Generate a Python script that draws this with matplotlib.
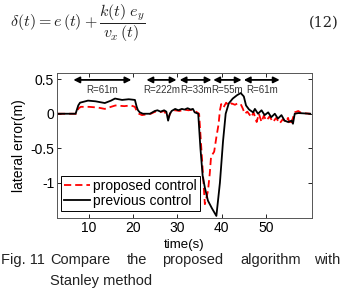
import matplotlib
matplotlib.use('Agg')
from matplotlib import pyplot as plt

plt.rcParams['font.family'] = ['Liberation Sans', 'DejaVu Sans']
plt.rcParams['mathtext.fontset'] = 'cm'

# previous control (Stanley method), black solid
t_prev = [3, 7.0, 7.6, 8.0, 9.8, 11.5, 13.6, 15.0, 15.9, 17.5, 19.0, 20.4, 20.8, 21.1,
          21.5, 22.2, 23.8, 24.9, 25.5, 26.2, 27.0, 27.5, 27.9, 28.3, 28.7, 29.5, 30.2,
          31.0, 31.6, 32.3, 33.0, 33.5, 33.9, 34.7, 35.2, 35.7, 36.2, 36.9, 37.8, 38.8,
          39.6, 40.3, 40.9, 41.6, 42.5, 43.5, 44.3, 45.0, 45.5, 46.2, 47.1, 47.5, 48.2,
          49.0, 49.7, 50.5, 51.2, 52.0, 52.7, 53.5, 54.2, 55.0, 55.8, 56.1, 56.5, 57.3, 60]
e_prev = [0, 0, 0.12, 0.16, 0.19, 0.18, 0.155, 0.19, 0.22, 0.2, 0.21, 0.2, 0.1, 0.05,
          0.02, 0.0, 0.0, 0.04, 0.05, 0.03, 0.05, 0.03, -0.1, 0.0, 0.04, 0.07, 0.05,
          0.07, 0.06, 0.08, 0.06, 0.07, 0.02, 0.0, -0.5, -0.9, -1.07, -1.26, -1.37, -1.48,
          -1.0, -0.4, 0.0, 0.15, 0.22, 0.27, 0.3, 0.25, 0.12, 0.06, 0.02, 0.07, 0.0,
          0.05, -0.02, 0.02, -0.05, 0.0, -0.07, -0.02, -0.10, -0.12, -0.10, -0.145, 0.0, 0.01, 0]

# proposed control, red dashed
t_prop = [3, 7.1, 7.7, 8.2, 10, 12, 13.6, 15, 16, 18, 19.5, 20.4, 20.8, 21.3, 22, 23, 24,
          25, 26, 27, 27.9, 28.5, 29.5, 30.5, 31.5, 32.5, 33.5, 34.2, 34.9, 35.5, 36.2,
          36.9, 37.3, 37.6, 38.3, 38.8, 39.3, 39.6, 39.9, 40.4, 41.0, 41.6, 42.2, 43.0,
          43.6, 44.3, 44.8, 45.2, 45.8, 46.7, 47.2, 47.9, 48.4, 49.0, 49.5, 50.1, 50.8,
          51.6, 52.3, 53.1, 53.8, 54.5, 55.0, 55.4, 56.0, 56.5, 57.3, 58, 60]
e_prop = [0, 0, 0.08, 0.1, 0.1, 0.09, 0.07, 0.1, 0.12, 0.11, 0.12, 0.1, 0.04, 0.0, -0.02,
          -0.01, 0.0, 0.03, 0.02, 0.04, -0.06, 0.02, 0.05, 0.04, 0.06, 0.05, 0.06, 0.03,
          0.0, -0.6, -1.31, -1.12, -0.87, -0.62, -0.55, -0.34, -0.15, 0.05, 0.14, 0.09,
          0.16, 0.12, 0.15, 0.13, 0.15, 0.14, 0.07, 0.0, 0.03, -0.05, 0.02, -0.12, 0.0,
          -0.12, -0.03, -0.10, -0.04, -0.12, -0.06, -0.14, -0.08, -0.12, -0.06, -0.16,
          -0.08, 0.02, 0.04, 0.01, 0]

# curve sections with radius
sec_start = [6.5, 23.0, 30.5, 38.1, 45.0]
sec_end = [19.6, 29.8, 37.7, 44.5, 53.1]
sec_label = ['R=61m', 'R=222m', 'R=33m', 'R=55m', 'R=61m']

fig = plt.figure(figsize=(3.4, 2.95), dpi=100)
ax = fig.add_axes([57/340, 1-218/295, 255/340, 145/295])

ax.plot(t_prop, e_prop, color='red', ls='--', dashes=(4, 2.2), lw=1.3, label='proposed control')
ax.plot(t_prev, e_prev, color='black', lw=1.3, label='previous control')

for s, e, lab in zip(sec_start, sec_end, sec_label):
    ax.annotate('', xy=(s, 0.49), xytext=(e, 0.49),
                arrowprops=dict(arrowstyle='<|-|>', color='black', lw=1.3,
                                mutation_scale=9, shrinkA=0, shrinkB=0))
    ax.text((s + e) / 2, 0.35, lab, fontsize=7, color='#333333', ha='center', va='center')

ax.set_xlim(2.8, 60.4)
ax.set_ylim(-1.51, 0.59)
ax.set_xticks([10, 20, 30, 40, 50])
ax.set_yticks([-1, -0.5, 0, 0.5])
ax.set_yticklabels(['-1', '-0.5', '0', '0.5'])
ax.tick_params(direction='in', top=True, right=True, length=3, width=0.6, labelsize=10, pad=2)
for sp in ax.spines.values():
    sp.set_linewidth(0.7)
    sp.set_color('#555555')
ax.set_xlabel('time(s)', fontsize=9.5, labelpad=3)
ax.set_ylabel('lateral error(m)', fontsize=10, labelpad=3)
leg = ax.legend(loc='lower left', bbox_to_anchor=(0.0, 0.02), fontsize=10, handlelength=1.9,
                handletextpad=0.2, borderpad=0.2, labelspacing=0.1, fancybox=False,
                framealpha=1, borderaxespad=0.3)
leg.get_frame().set_edgecolor('black')
leg.get_frame().set_linewidth(0.7)

# equation above the figure
fig.text(10/340, 1-23/295, r'$\delta(t) = e\,(t) + \dfrac{k(t)\;e_y}{v_x\,(t)}$',
         fontsize=11.5, va='center', ha='left', color='#222222')
fig.text(339/340, 1-23/295, '(12)', family='DejaVu Serif', fontsize=10.5, va='center',
         ha='right', color='#222222')

# caption
cap_words = ['Fig. 11', 'Compare', 'the', 'proposed', 'algorithm', 'with']
cap_x = [1, 50, 127, 162, 240, 314]
for w, x in zip(cap_words, cap_x):
    fig.text(x/340, 1-260/295, w, fontsize=10.5, va='center', ha='left', color='#222222')
fig.text(50/340, 1-281/295, 'Stanley method', fontsize=10.5, va='center', ha='left', color='#222222')

fig.savefig('out.png', dpi=100)
